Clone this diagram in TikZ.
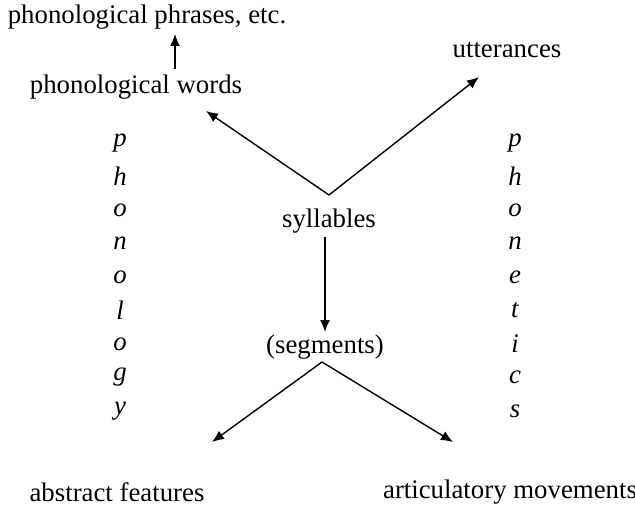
\documentclass[tikz,border=0pt]{standalone}
\usepackage{fontspec}
\setmainfont{Liberation Serif}
\usetikzlibrary{arrows.meta, positioning}

\begin{document}
\begin{tikzpicture}[x=0.5pt, y=-0.5pt, font=\fontsize{13.4}{15}\selectfont,
    level/.style={inner sep=1pt},
    link/.style={-{Latex[length=6pt,width=5pt]}, line width=0.7pt}]
    \useasboundingbox (0,0) rectangle (635,508);

    \node[level] (phrases) at (147,17) {phonological phrases, etc.};
    \node[level] (words) at (136,87) {phonological words};
    \node[level] (utter) at (507,50) {utterances};
    \node[level] (syl) at (329,221) {syllables};
    \node[level] (seg) at (325,347) {(segments)};
    \node[level] (abstr) at (117,492) {abstract features};
    \node[level] (artic) at (510,492) {articulatory movements};

    % branching points
    \coordinate (up) at (329,195);
    \coordinate (down) at (322,362);

    \draw[link] (175,69) -- (175,34);
    \draw[link] (up) -- (206,111);
    \draw[link] (up) -- (479,77);
    \draw[link] (325,237) -- (325,332);
    \draw[link] (down) -- (212,442);
    \draw[link] (down) -- (453,442);

    % vertical labels
    \foreach \ch [count=\i] in {p,h,o,n,o,l,o,g,y}
        \node at (120,143+33.5*\i-33.5) {\textit{\ch}};
    \foreach \ch [count=\i] in {p,h,o,n,e,t,i,c,s}
        \node at (515,143+33.5*\i-33.5) {\textit{\ch}};
\end{tikzpicture}
\end{document}
